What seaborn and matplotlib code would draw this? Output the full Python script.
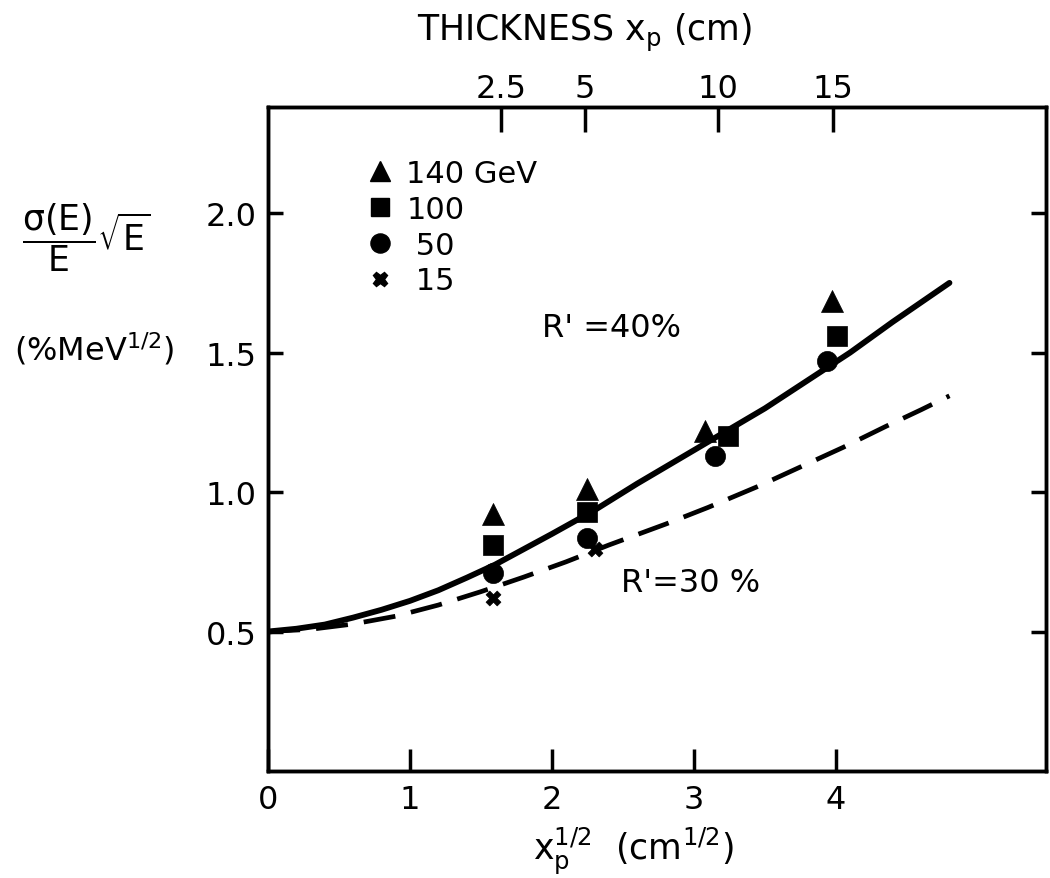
import numpy as np
import pandas as pd
import matplotlib
matplotlib.use("Agg")
import matplotlib.pyplot as plt
from matplotlib.lines import Line2D
import seaborn as sns

# ---- data ----
energies = ["140 GeV", "100", "50", "15"]
x_140 = [1.585, 2.25, 3.08, 3.97]
y_140 = [0.92, 1.01, 1.22, 1.685]
x_100 = [1.585, 2.25, 3.24, 4.01]
y_100 = [0.81, 0.93, 1.20, 1.56]
x_50 = [1.585, 2.25, 3.15, 3.94]
y_50 = [0.71, 0.835, 1.13, 1.47]
x_15 = [1.585, 2.30]
y_15 = [0.62, 0.795]

solid_x = [0, 0.2, 0.4, 0.6, 0.8, 1.0, 1.2, 1.4, 1.6, 1.8, 2.0, 2.3, 2.6, 2.9, 3.2,
           3.5, 3.8, 4.1, 4.4, 4.6, 4.8]
solid_y = [0.50, 0.51, 0.525, 0.55, 0.578, 0.61, 0.648, 0.693, 0.74, 0.795, 0.85,
           0.935, 1.03, 1.12, 1.21, 1.30, 1.40, 1.50, 1.61, 1.68, 1.75]
dash_x = [0, 0.3, 0.6, 0.9, 1.2, 1.5, 1.8, 2.1, 2.4, 2.8, 3.1, 3.45, 3.75, 4.05,
          4.35, 4.6, 4.8]
dash_y = [0.50, 0.508, 0.527, 0.555, 0.595, 0.643, 0.695, 0.75, 0.81, 0.885,
          0.945, 1.02, 1.09, 1.16, 1.235, 1.295, 1.345]

bottom_ticks = [0, 1, 2, 3, 4]
bottom_labels = ["0", "1", "2", "3", "4"]
left_ticks = [0.5, 1.0, 1.5, 2.0]
left_labels = ["0.5", "1.0", "1.5", "2.0"]
top_tick_pos = [1.64, 2.23, 3.17, 3.98]
top_labels = ["2.5", "5", "10", "15"]

points = pd.DataFrame({
    "x": x_140 + x_100 + x_50 + x_15,
    "y": y_140 + y_100 + y_50 + y_15,
    "E": ["140 GeV"] * len(x_140) + ["100"] * len(x_100) + ["50"] * len(x_50) + ["15"] * len(x_15),
})
solid = pd.DataFrame({"x": solid_x, "y": solid_y})
dashed = pd.DataFrame({"x": dash_x, "y": dash_y})

sns.set_style("ticks")
plt.rcParams["font.family"] = ["DejaVu Sans"]
plt.rcParams["mathtext.fontset"] = "dejavusans"
for k in ["text.color", "axes.labelcolor", "xtick.color", "ytick.color", "axes.edgecolor"]:
    plt.rcParams[k] = "black"

fig = plt.figure(figsize=(10.5, 8.79), dpi=100)
ax = fig.add_axes([0.2552, 0.1217, 0.741, 0.7553])

sns.lineplot(data=solid, x="x", y="y", ax=ax, color="black", lw=4.2, sort=False)
sns.lineplot(data=dashed, x="x", y="y", ax=ax, color="black", lw=3.4, sort=False)
ax.lines[0].set_solid_capstyle("round")
ax.lines[-1].set_dashes((6.8, 3.4))

marker_map = {"140 GeV": "^", "100": "s", "50": "o", "15": "X"}
size_map = {"140 GeV": 250, "100": 200, "50": 210, "15": 115}
for e in energies:
    sub = points[points["E"] == e]
    sns.scatterplot(data=sub, x="x", y="y", ax=ax, marker=marker_map[e],
                    s=size_map[e], color="black", edgecolor="black", linewidth=0.5,
                    legend=False, zorder=5)

ax.set_xlim(0, 5.48)
ax.set_ylim(0, 2.38)
ax.set_xticks(bottom_ticks)
ax.set_xticklabels(bottom_labels)
ax.set_yticks(left_ticks)
ax.set_yticklabels(left_labels)
ax.set_xlabel("")
ax.set_ylabel("")
ax.tick_params(axis="both", direction="in", length=13, width=2.5, labelsize=23,
               pad=8)
ax.tick_params(axis="y", right=True, length=11)
ax.tick_params(axis="x", length=16, pad=9)
for sp in ax.spines.values():
    sp.set_linewidth(2.5)
    sp.set_visible(True)

ax2 = ax.twiny()
ax2.set_xlim(ax.get_xlim())
ax2.set_xticks(top_tick_pos)
ax2.set_xticklabels(top_labels)
ax2.tick_params(axis="x", direction="in", length=18, width=2.5, labelsize=23, pad=2)
for sp in ax2.spines.values():
    sp.set_linewidth(2.5)

fig.text(0.557, 0.963, r"THICKNESS $\mathrm{x_p}$ (cm)", fontsize=25,
         ha="center", va="center")
fig.text(0.603, 0.032, r"$\mathrm{x_p^{1/2}}$  (cm$^{1/2}$)", fontsize=25,
         ha="center", va="center")

# legend
handles = [Line2D([], [], ls="none", marker=marker_map[e], color="black",
                  markersize=np.sqrt(size_map[e]) * 0.95) for e in energies]
leg_labels = ["140 GeV", "100", " 50", " 15"]
ax.legend(handles, leg_labels, loc="upper left", bbox_to_anchor=(0.115, 0.94),
          frameon=False, fontsize=22, handlelength=0.7, handletextpad=0.5,
          labelspacing=0.22, borderaxespad=0)

ax.text(2.42, 1.59, "R' =40%", fontsize=23, ha="center", va="center")
ax.text(2.98, 0.675, "R'=30 %", fontsize=23, ha="center", va="center")

fig.text(0.082, 0.73, r"$\dfrac{\mathrm{\sigma(E)}}{\mathrm{E}}\sqrt{\mathrm{E}}$",
         fontsize=25, ha="center", va="center")
fig.text(0.09, 0.603, r"(%MeV$^{1/2}$)", fontsize=23, ha="center", va="center")

fig.savefig("out.png", dpi=100)
